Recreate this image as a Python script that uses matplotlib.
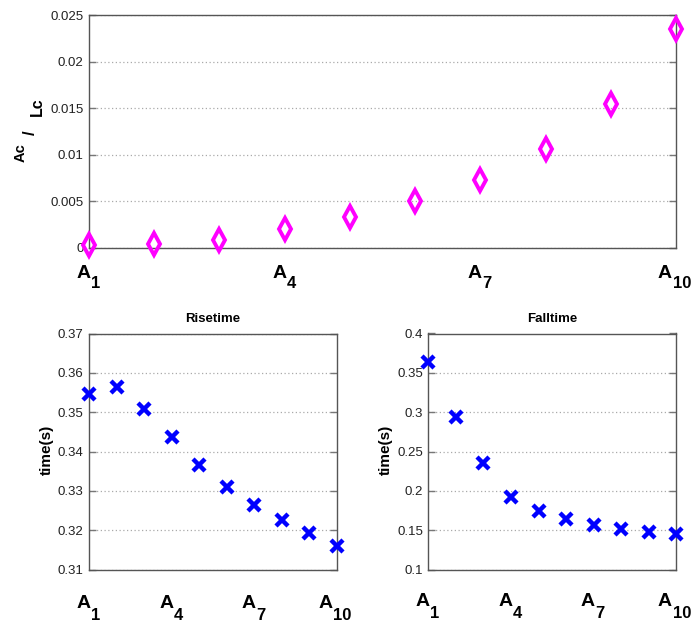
import matplotlib
matplotlib.use('Agg')
import matplotlib.pyplot as plt

plt.rcParams['font.family'] = ['Liberation Sans', 'DejaVu Sans']

# ---- data ----
categories = [1, 2, 3, 4, 5, 6, 7, 8, 9, 10]
ratio_ac_lc = [0.0003, 0.00046, 0.00086, 0.0020, 0.0033, 0.0050, 0.0073, 0.0106, 0.0155, 0.0235]
risetime = [0.3545, 0.3565, 0.3508, 0.3436, 0.3365, 0.3309, 0.3264, 0.3227, 0.3192, 0.3160]
falltime = [0.364, 0.294, 0.236, 0.192, 0.174, 0.164, 0.157, 0.152, 0.148, 0.145]

xtick_pos = [1, 4, 7, 10]
xtick_sub = ['1', '4', '7', '10']
xtick_base = 'A'

top_yticks = [0, 0.005, 0.01, 0.015, 0.02, 0.025]
top_ylabels = ['0', '0.005', '0.01', '0.015', '0.02', '0.025']
rise_yticks = [0.31, 0.32, 0.33, 0.34, 0.35, 0.36, 0.37]
rise_ylabels = ['0.31', '0.32', '0.33', '0.34', '0.35', '0.36', '0.37']
fall_yticks = [0.1, 0.15, 0.2, 0.25, 0.3, 0.35, 0.4]
fall_ylabels = ['0.1', '0.15', '0.2', '0.25', '0.3', '0.35', '0.4']

W, H = 692, 624
fig = plt.figure(figsize=(W / 100, H / 100), dpi=100)
fig.patch.set_facecolor('white')

ax0 = fig.add_axes([89 / W, 1 - 248 / H, (676 - 89) / W, (248 - 15) / H])
ax1 = fig.add_axes([89 / W, 1 - 569.5 / H, (337 - 89) / W, (569.5 - 333.5) / H])
ax2 = fig.add_axes([428.5 / W, 1 - 569.5 / H, (676 - 428.5) / W, (569.5 - 333.5) / H])

SPINE = '#555555'


def style(ax, yticks, ylabels, ylim, label_drop, sub_drop):
    ax.set_xlim(categories[0], categories[-1])
    ax.set_ylim(*ylim)
    ax.set_yticks(yticks)
    ax.set_yticklabels(ylabels, fontsize=9.5, color='#222222')
    ax.set_xticks(xtick_pos)
    ax.set_xticklabels([])
    ax.tick_params(axis='y', direction='in', length=5, width=1, color='#777777',
                   left=True, right=True, pad=4)
    ax.tick_params(axis='x', length=0)
    ax.grid(axis='y', linestyle=(0, (1, 2)), color='#aaaaaa', linewidth=0.9)
    ax.set_axisbelow(True)
    for s in ax.spines.values():
        s.set_color(SPINE)
        s.set_linewidth(1.0)
    # A_n style tick labels: "A" then lowered digits
    for pos, sub in zip(xtick_pos, xtick_sub):
        split = 1.5 - (len(sub) - 1) * 5.5
        ax.annotate(xtick_base, xy=(pos, 0), xycoords=('data', 'axes fraction'),
                    xytext=(split, -label_drop), textcoords='offset pixels',
                    ha='right', va='baseline', fontsize=14, fontweight='bold',
                    annotation_clip=False)
        ax.annotate(sub, xy=(pos, 0), xycoords=('data', 'axes fraction'),
                    xytext=(split + 0.5, -label_drop - sub_drop), textcoords='offset pixels',
                    ha='left', va='baseline', fontsize=12, fontweight='bold',
                    annotation_clip=False)


style(ax0, top_yticks, top_ylabels, (0, 0.025), 30, 10.5)
style(ax1, rise_yticks, rise_ylabels, (0.31, 0.37), 38.5, 11.5)
style(ax2, fall_yticks, fall_ylabels, (0.1, 0.4), 37, 11.5)

ax0.plot(categories, ratio_ac_lc, linestyle='none', marker='d', markersize=11,
         markerfacecolor='none', markeredgecolor='#ff00ff', markeredgewidth=2.8,
         clip_on=False, zorder=5)
for ax, vals in ((ax1, risetime), (ax2, falltime)):
    ax.plot(categories, vals, linestyle='none', marker='x', markersize=8,
            markeredgecolor='#0000ff', markeredgewidth=3.2, clip_on=False, zorder=5)

# y label of the top panel: Ac / Lc with lowered "Lc"
fig.text(20.5 / W, 1 - 153 / H, 'Ac', rotation=90, ha='center', va='center',
         fontsize=10.5, fontweight='bold')
fig.text(30 / W, 1 - 133 / H, '/', rotation=90, ha='center', va='center',
         fontsize=12, fontweight='bold')
fig.text(37.5 / W, 1 - 107 / H, 'Lc', rotation=90, ha='center', va='center',
         fontsize=11.5, fontweight='bold')

fig.text(46.5 / W, 1 - 450 / H, 'time(s)', rotation=90, ha='center', va='center',
         fontsize=11, fontweight='bold')
fig.text(385.5 / W, 1 - 450 / H, 'time(s)', rotation=90, ha='center', va='center',
         fontsize=11, fontweight='bold')

for ax, title in ((ax1, 'Risetime'), (ax2, 'Falltime')):
    ax.annotate(title, xy=(0.5, 1), xycoords='axes fraction', xytext=(0, 12),
                textcoords='offset pixels', ha='center', va='baseline',
                fontsize=9.5, fontweight='bold')

fig.savefig('out.png', dpi=100, facecolor='white')
